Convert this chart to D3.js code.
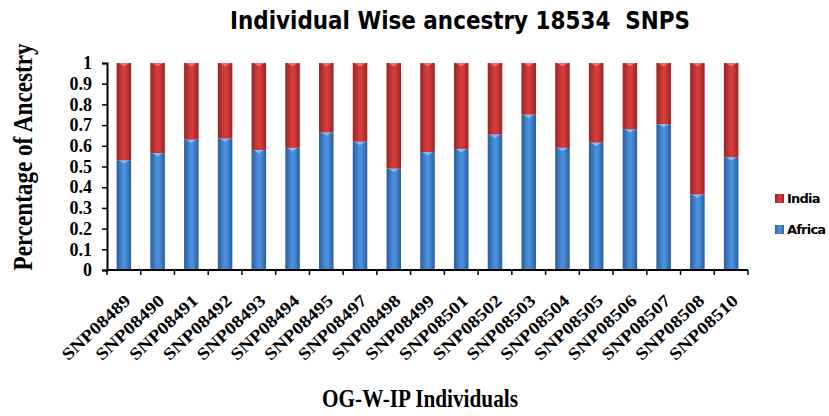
<!DOCTYPE html>
<html><head><meta charset="utf-8">
<script src="https://cdn.jsdelivr.net/npm/d3@7"></script>
<style>html,body{margin:0;padding:0;background:#fff;}svg{display:block;}</style>
</head><body>
<svg id="chart" width="829" height="416"></svg>
<script>
const categories = ["SNP08489","SNP08490","SNP08491","SNP08492","SNP08493","SNP08494","SNP08495","SNP08497","SNP08498","SNP08499","SNP08501","SNP08502","SNP08503","SNP08504","SNP08505","SNP08506","SNP08507","SNP08508","SNP08510"];
const africa = [0.53,0.565,0.63,0.635,0.58,0.59,0.665,0.62,0.49,0.57,0.585,0.655,0.75,0.59,0.615,0.68,0.705,0.365,0.545];
const india = africa.map(a => +(1 - a).toFixed(3));
const seriesNames = ["Africa","India"];
const yTicks = [0,0.1,0.2,0.3,0.4,0.5,0.6,0.7,0.8,0.9,1];
const titleText = "Individual Wise ancestry 18534\u00a0 SNPS";
const yTitle = "Percentage of Ancestry";
const xTitle = "OG-W-IP Individuals";

const svg = d3.select("#chart");
const x = d3.scaleBand().domain(categories).range([107, 748]).paddingInner(0.57).paddingOuter(0.285);
const y = d3.scaleLinear().domain([0, 1]).range([270, 63]);

const defs = svg.append("defs");
function grad(id, edge, mid) {
  const g = defs.append("linearGradient").attr("id", id).attr("x1", "0").attr("x2", "1").attr("y1", "0").attr("y2", "0");
  g.append("stop").attr("offset", "0").attr("stop-color", edge);
  g.append("stop").attr("offset", "0.45").attr("stop-color", mid);
  g.append("stop").attr("offset", "0.6").attr("stop-color", mid);
  g.append("stop").attr("offset", "1").attr("stop-color", edge);
}
grad("gBlue", "#2a5d9c", "#4a8fdc");
grad("gRed", "#9a2424", "#d33c3a");

const data = categories.map((c, i) => ({c, africa: africa[i], india: india[i]}));
const stack = d3.stack().keys(["africa", "india"])(data);
const fills = {africa: "url(#gBlue)", india: "url(#gRed)"};
const caps = {africa: "#8fc3f2", india: "#f07a74"};

const g = svg.append("g");
stack.forEach(layer => {
  const lg = g.append("g");
  lg.selectAll("rect").data(layer).enter().append("rect")
    .attr("x", d => x(d.data.c))
    .attr("y", d => y(d[1]))
    .attr("width", x.bandwidth())
    .attr("height", d => y(d[0]) - y(d[1]))
    .attr("fill", fills[layer.key]);
  lg.selectAll("path").data(layer).enter().append("path")
    .attr("d", d => {
      const x0 = x(d.data.c), w = x.bandwidth(), t = y(d[1]);
      return `M${x0 + 2},${t}L${x0 + w - 2},${t}L${x0 + w / 2},${t + 3.5}Z`;
    })
    .attr("fill", caps[layer.key]).attr("opacity", 0.85);
});

// y axis
const yAxis = d3.axisLeft(y).tickValues(yTicks).tickSize(5).tickPadding(10).tickFormat(d3.format("~g"));
const ya = svg.append("g").attr("transform", "translate(107,0)").call(yAxis);
ya.select(".domain").attr("stroke", "#000").attr("stroke-width", 2);
ya.selectAll(".tick line").attr("stroke", "#000").attr("stroke-width", 1.5);
ya.selectAll(".tick text").attr("font-family", "'Liberation Serif', serif").attr("font-weight", "bold")
  .attr("font-size", 18).attr("fill", "#000");

// x axis
const step = x.step();
const boundaries = d3.range(categories.length + 1).map(i => i === categories.length ? x.range()[1] : x(categories[i]) - step * x.paddingInner() / 2);
svg.append("line").attr("x1", 106).attr("x2", 748).attr("y1", y(0)).attr("y2", y(0)).attr("stroke", "#000").attr("stroke-width", 2);
svg.selectAll(".xt").data(boundaries).enter().append("line")
  .attr("x1", d => d).attr("x2", d => d).attr("y1", y(0)).attr("y2", y(0) + 5)
  .attr("stroke", "#000").attr("stroke-width", 1.5);

svg.selectAll(".xl").data(categories).enter().append("text")
  .attr("transform", d => `translate(${x(d) + x.bandwidth() / 2 + 8},302) rotate(-43)`)
  .attr("text-anchor", "end")
  .attr("font-family", "'Liberation Serif', serif").attr("font-weight", "bold").attr("font-size", 17)
  .attr("textLength", 87).attr("lengthAdjust", "spacingAndGlyphs")
  .attr("fill", "#000")
  .text(d => d);

// titles
svg.append("text").attr("x", 460).attr("y", 29).attr("text-anchor", "middle")
  .attr("font-family", "'DejaVu Sans', Verdana, sans-serif").attr("font-weight", "bold").attr("font-size", 24)
  .attr("textLength", 460).attr("lengthAdjust", "spacingAndGlyphs")
  .attr("fill", "#000").text(titleText);

svg.append("text").attr("transform", "translate(32,157) rotate(-90)").attr("text-anchor", "middle")
  .attr("font-family", "'Liberation Serif', serif").attr("font-weight", "bold").attr("font-size", 27)
  .attr("textLength", 227).attr("lengthAdjust", "spacingAndGlyphs")
  .attr("fill", "#000").text(yTitle);

svg.append("text").attr("x", 420).attr("y", 407).attr("text-anchor", "middle")
  .attr("font-family", "'Liberation Serif', serif").attr("font-weight", "bold").attr("font-size", 25)
  .attr("textLength", 196).attr("lengthAdjust", "spacingAndGlyphs")
  .attr("fill", "#000").text(xTitle);

// legend
const legendItems = [
  {name: seriesNames[1], fill: "url(#gRed)", y: 194},
  {name: seriesNames[0], fill: "url(#gBlue)", y: 225}
];
const lg = svg.selectAll(".lg").data(legendItems).enter().append("g");
lg.append("rect").attr("x", 775).attr("y", d => d.y).attr("width", 9).attr("height", 9).attr("fill", d => d.fill);
lg.append("text").attr("x", 787).attr("y", d => d.y + 9)
  .attr("font-family", "'DejaVu Sans', sans-serif").attr("font-weight", "bold").attr("font-size", 13)
  .attr("letter-spacing", -0.8)
  .attr("fill", "#000").text(d => d.name);
</script>
</body></html>
